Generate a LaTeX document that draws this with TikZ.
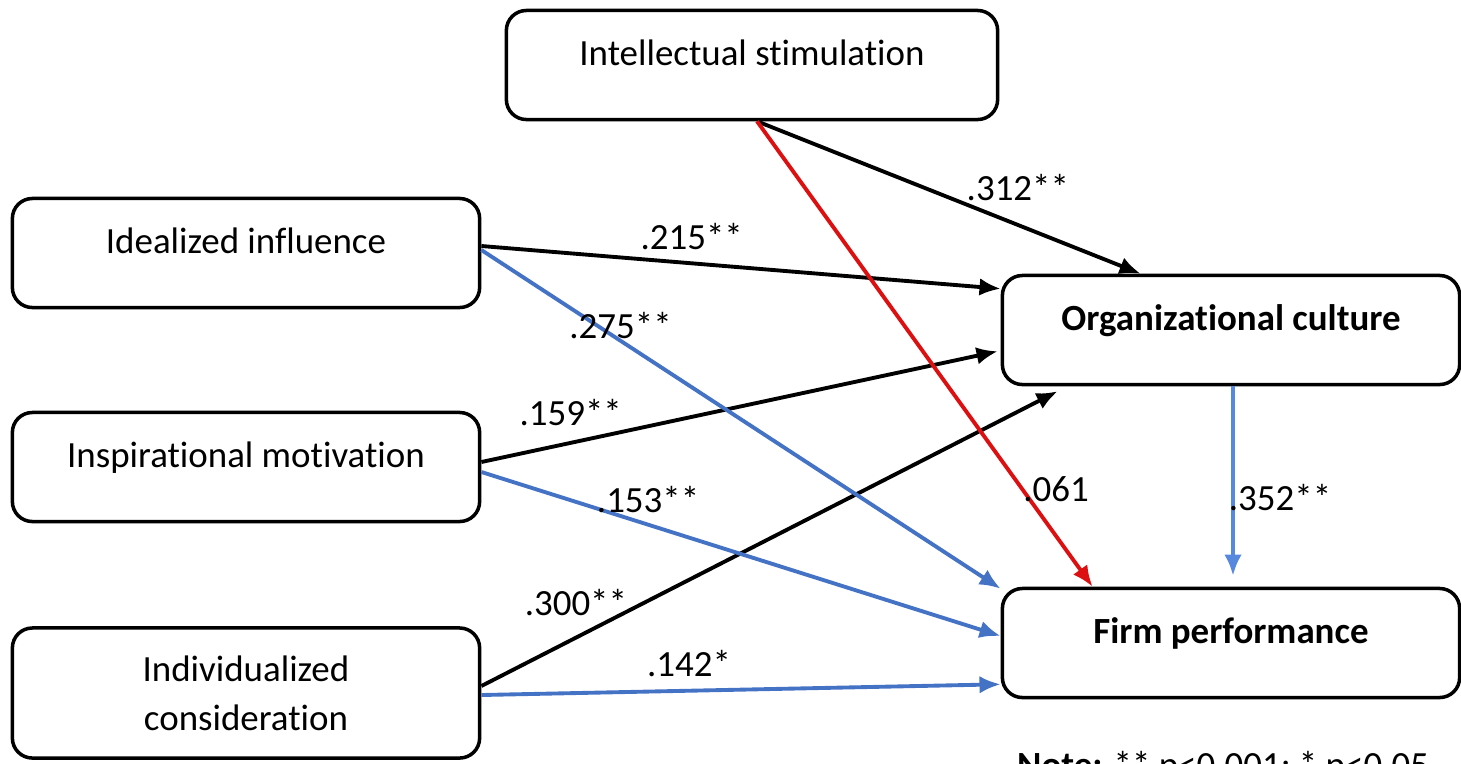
\documentclass[tikz,border=0pt]{standalone}
\usepackage{fontspec}
\setmainfont[Ligatures=NoCommon]{Carlito}
\usetikzlibrary{arrows.meta,calc}
\definecolor{pathblue}{RGB}{68,114,196}
\definecolor{lightpathblue}{RGB}{86,136,222}
\definecolor{pathred}{RGB}{220,16,16}
\tikzstyle{factor}=[draw,line width=1pt,rounded corners=0.2cm,minimum width=4.67cm,minimum height=1.09cm,align=center,font=\fontsize{10.5}{14}\selectfont]
\tikzstyle{onerow}=[text height=7.5pt,text depth=7.5pt]
\tikzstyle{outcome}=[factor,minimum width=4.57cm,font=\fontsize{10.5}{14}\selectfont\bfseries]
\tikzstyle{edge}=[draw,line width=1.1pt,-{Latex[length=6pt,width=5pt]}]
\tikzstyle{weight}=[font=\fontsize{10.5}{14}\selectfont,inner sep=1pt]

\begin{document}
\begin{tikzpicture}[x=0.01cm,y=-0.01cm]
    \useasboundingbox (0,0) rectangle (1461,763);
    % First we draw the boxes
    \node[factor,onerow,minimum width=4.91cm] (IS) at (752,65) {Intellectual stimulation};
    \node[factor,onerow] (II) at (246,253) {Idealized influence};
    \node[factor,onerow] (IM) at (246,467) {Inspirational motivation};
    \node[factor,minimum height=1.30cm] (IC) at (246,693) {Individualized\\consideration};
    \node[outcome,onerow] (OC) at (1231,330) {Organizational culture};
    \node[outcome,onerow] (FP) at (1231,643) {Firm performance};
    \node[weight,anchor=base west] (note) at (1013,777) {\textbf{Note:} ** p<0.001; * p<0.05};

    % Paths into organizational culture
    \path[edge] ($(IS.south)+(5,0)$) -- node[weight,pos=0.68,shift={(0,-37)}] {.312**} ($(OC.north west)+(140,0)$);
    \path[edge] ($(II.east)+(0,-7)$) -- node[weight,pos=0.405,shift={(0,-27)}] {.215**} ($(OC.north west)+(0,15)$);
    \path[edge] ($(IM.east)+(0,-5)$) -- node[weight,pos=0.173,shift={(0,-30)}] {.159**} ($(OC.south west)+(-3,-35)$);
    \path[edge] ($(IC.east)+(0,-7)$) -- node[weight,pos=0.164,shift={(0,-35)}] {.300**} ($(OC.south west)+(57,5)$);

    % Paths into firm performance
    \path[edge,pathblue] ($(II.east)+(0,-3)$) -- node[weight,black,pos=0.268,shift={(0,-15)}] {.275**} ($(FP.north west)+(0,2)$);
    \path[edge,pathblue] ($(IM.east)+(0,5)$) -- node[weight,black,pos=0.321,shift={(0,-25)}] {.153**} ($(FP.west)+(0,-7)$);
    \path[edge,pathblue] ($(IC.east)+(0,2)$) -- node[weight,black,pos=0.40,shift={(0,-27)}] {.142*} ($(FP.south west)+(0,-15)$);
    \path[edge,pathred] ($(IS.south)+(5,0)$) -- node[weight,black,pos=0.79,shift={(34,0)}] {.061} ($(FP.north west)+(92,0)$);
    \path[edge,lightpathblue,shorten >=0.11cm] ($(OC.south)+(2,0)$) -- node[weight,black,pos=0.557,shift={(47,0)}] {.352**} ($(FP.north)+(2,0)$);
\end{tikzpicture}
\end{document}
